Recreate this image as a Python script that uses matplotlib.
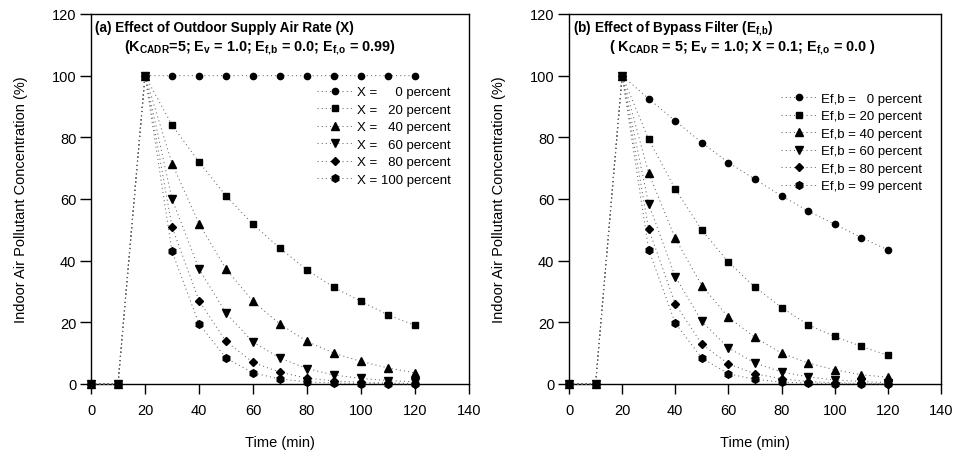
import matplotlib
matplotlib.use("Agg")
import matplotlib.pyplot as plt

plt.rcParams['font.family'] = ['Liberation Sans', 'DejaVu Sans']
plt.rcParams['mathtext.fontset'] = 'custom'
plt.rcParams['mathtext.rm'] = 'Liberation Sans:bold'
plt.rcParams['mathtext.bf'] = 'Liberation Sans:bold'
plt.rcParams['mathtext.it'] = 'Liberation Sans:bold'
plt.rcParams['mathtext.default'] = 'bf'

# ---------------- data ----------------
time = [0, 10, 20, 30, 40, 50, 60, 70, 80, 90, 100, 110, 120]

a_labels = ["X =     0 percent", "X =   20 percent", "X =   40 percent",
            "X =   60 percent", "X =   80 percent", "X = 100 percent"]
a_x0 = [0, 0, 100, 100, 100, 100, 100, 100, 100, 100, 100, 100, 100]
a_x20 = [0, 0, 100, 84, 72, 61, 51.8, 44, 37, 31.3, 26.8, 22.4, 19]
a_x40 = [0, 0, 100, 71.5, 52, 37.3, 26.8, 19.4, 13.8, 10, 7.3, 5.2, 3.6]
a_x60 = [0, 0, 100, 60, 37.3, 23, 13.6, 8.4, 5, 2.9, 1.8, 1.1, 0.7]
a_x80 = [0, 0, 100, 51, 27, 13.8, 7, 3.8, 1.9, 1, 0.5, 0.3, 0.15]
a_x100 = [0, 0, 100, 43, 19.5, 8.4, 3.6, 1.6, 0.7, 0.3, 0.13, 0.06, 0.03]

b_labels = ["Ef,b =   0 percent", "Ef,b = 20 percent", "Ef,b = 40 percent",
            "Ef,b = 60 percent", "Ef,b = 80 percent", "Ef,b = 99 percent"]
b_e0 = [0, 0, 100, 92.5, 85.3, 78.3, 71.8, 66.4, 61, 56.1, 51.8, 47.5, 43.5]
b_e20 = [0, 0, 100, 79.3, 63.2, 49.9, 39.5, 31.4, 24.8, 19.2, 15.4, 12.2, 9.3]
b_e40 = [0, 0, 100, 68.3, 47.2, 31.9, 21.6, 15.1, 10, 6.8, 4.6, 3, 2.2]
b_e60 = [0, 0, 100, 58.3, 34.8, 20.3, 11.7, 6.8, 3.9, 2.3, 1.3, 0.8, 0.45]
b_e80 = [0, 0, 100, 50.2, 26, 12.9, 6.5, 3.3, 1.7, 0.8, 0.4, 0.2, 0.1]
b_e99 = [0, 0, 100, 43.5, 19.7, 8.4, 3.3, 1.5, 0.6, 0.3, 0.1, 0.05, 0.02]

xticks = [0, 20, 40, 60, 80, 100, 120, 140]
yticks = [0, 20, 40, 60, 80, 100, 120]

markers = ['o', 's', '^', 'v', 'D', 'h']
msizes = [4.5, 5, 5.5, 5.5, 4.5, 5.5]

fig = plt.figure(figsize=(9.56, 4.64), dpi=100)
axA = fig.add_axes([0.0952, 0.1703, 0.3954, 0.7974])
axB = fig.add_axes([0.5952, 0.1703, 0.3891, 0.7974])


def draw(ax, series, labels, leg_anchor):
    for vals, lab, m, ms in zip(series, labels, markers, msizes):
        ax.plot(time, vals, linestyle=(0, (1, 3)), color='0.4', lw=0.75,
                marker=m, markersize=ms, markerfacecolor='black',
                markeredgecolor='black', label=lab, clip_on=False, zorder=3)
    ax.set_xlim(0, 140)
    ax.set_ylim(0, 120)
    ax.set_xticks(xticks)
    ax.set_yticks(yticks)
    ax.tick_params(axis='x', direction='out', length=7, width=1, pad=7, labelsize=10.5)
    ax.tick_params(axis='y', direction='out', length=8, width=1, pad=2.5, labelsize=10.5)
    for s in ax.spines.values():
        s.set_linewidth(1.0)
    ax.set_xlabel("Time (min)", fontsize=10.5, labelpad=13)
    ax.set_ylabel("Indoor Air Pollutant Concentration (%)", fontsize=10.5, labelpad=17)
    ax.legend(loc='upper left', bbox_to_anchor=leg_anchor, frameon=False,
              fontsize=9.5, handlelength=2.7, handletextpad=0.3,
              labelspacing=0.4, borderpad=0, borderaxespad=0, numpoints=1)


draw(axA, [a_x0, a_x20, a_x40, a_x60, a_x80, a_x100], a_labels, (0.598, 0.805))
draw(axB, [b_e0, b_e20, b_e40, b_e60, b_e80, b_e99], b_labels, (0.570, 0.788))

axA.text(0.011, 0.954, "(a) Effect of Outdoor Supply Air Rate (X)",
         transform=axA.transAxes, fontsize=9.8, fontweight='bold', va='baseline', ha='left')
axA.text(0.087, 0.902,
         r"(K$_{CADR}$=5; E$_{v}$ = 1.0; E$_{f,\!b}$ = 0.0; E$_{f,\!o}$ = 0.99)",
         transform=axA.transAxes, fontsize=10.4, fontweight='bold', va='baseline', ha='left')

axB.text(0.011, 0.954, r"(b) Effect of Bypass Filter (E$_{f,\!b}$)",
         transform=axB.transAxes, fontsize=9.8, fontweight='bold', va='baseline', ha='left')
axB.text(0.108, 0.902,
         r"( K$_{CADR}$ = 5; E$_{v}$ = 1.0; X = 0.1; E$_{f,\!o}$ = 0.0 )",
         transform=axB.transAxes, fontsize=10.4, fontweight='bold', va='baseline', ha='left')

fig.savefig("out.png", dpi=100)
